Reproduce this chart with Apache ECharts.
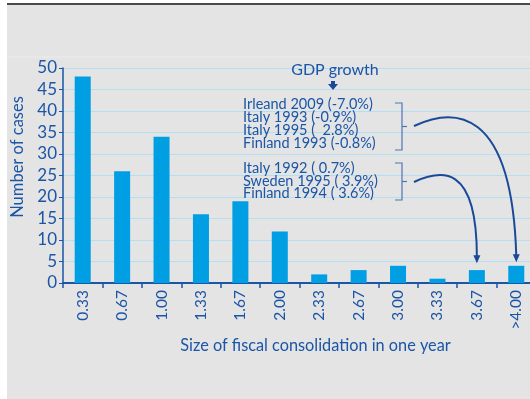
<!DOCTYPE html>
<html>
<head>
<meta charset="utf-8">
<script src="https://cdn.jsdelivr.net/npm/echarts@6/dist/echarts.min.js"></script>
<style>
  html, body { margin: 0; padding: 0; background: #fff; }
  #wrap { position: relative; width: 530px; height: 399px; overflow: hidden; }
  #panel { position: absolute; left: 7px; top: 3px; width: 523px; height: 396px;
           background: #e4e4e4; border-top: 2px solid #4a4a4a; box-sizing: border-box; }
  #chart { position: absolute; left: 0; top: 0; width: 530px; height: 399px; }
</style>
</head>
<body>
<div id="wrap">
  <div id="panel"></div>
  <div id="chart"></div>
</div>
<script>
// ----- Data -----
const categories = ['0.33', '0.67', '1.00', '1.33', '1.67', '2.00', '2.33', '2.67', '3.00', '3.33', '3.67', '>4.00'];
const cases = [48, 26, 34, 16, 19, 12, 2, 3, 4, 1, 3, 4];
const groupA = ['Irleand 2009 (-7.0%)', 'Italy 1993 (-0.9%)', 'Italy 1995 (  2.8%)', 'Finland 1993 (-0.8%)'];
const groupB = ['Italy 1992 ( 0.7%)', 'Sweden 1995 ( 3.9%)', 'Finland 1994 ( 3.6%)'];
const groupATarget = '>4.00';
const groupBTarget = '3.67';

const BLUE = '#1a55a6';
const DARK = '#1a4a97';
const BAR = '#009ee2';
const FONT = 'Lato, "Open Sans", sans-serif';

const chart = echarts.init(document.getElementById('chart'));

chart.setOption({
  animation: false,
  backgroundColor: 'transparent',
  grid: { left: 63, right: -6, top: 68, bottom: 116, outerBoundsMode: 'none', containLabel: false },
  xAxis: {
    type: 'category',
    data: categories,
    name: 'Size of fiscal consolidation in one year',
    nameLocation: 'middle',
    nameGap: 47,
    nameTextStyle: { color: BLUE, fontSize: 16.3, fontFamily: FONT, padding: [0, 0, 0, 32] },
    axisLine: { lineStyle: { color: BLUE, width: 2 } },
    axisTick: { show: true, length: 5, lineStyle: { color: BLUE, width: 1.5 } },
    axisLabel: { rotate: 90, color: BLUE, fontSize: 15.5, fontFamily: FONT, margin: 7, interval: 0 }
  },
  yAxis: {
    type: 'value',
    min: 0,
    max: 50,
    interval: 5,
    axisLine: { show: true, lineStyle: { color: BLUE, width: 1.5 } },
    axisTick: { show: true, length: 4, lineStyle: { color: BLUE } },
    axisLabel: { color: BLUE, fontSize: 17, fontFamily: FONT, margin: 6 },
    splitLine: { lineStyle: { color: '#b4dff3', width: 1 } }
  },
  series: [{
    type: 'bar',
    data: cases,
    barWidth: 16,
    itemStyle: { color: BAR }
  }]
});

// ----- Annotations -----
function arrowHead(x, y) {
  return {
    type: 'polygon',
    shape: { points: [[x - 3.5, y - 8], [x + 3.5, y - 8], [x, y]] },
    style: { fill: DARK }
  };
}

function bracket(x, y1, y2) {
  return {
    type: 'polyline',
    shape: { points: [[x - 7, y1], [x, y1], [x, y2], [x - 7, y2]] },
    style: { stroke: '#4f74b5', lineWidth: 1.2, fill: null }
  };
}

function build() {
  const iA = categories.indexOf(groupATarget);
  const iB = categories.indexOf(groupBTarget);
  const tipA = chart.convertToPixel({ seriesIndex: 0 }, [iA, cases[iA] + 0.8]);
  const tipB = chart.convertToPixel({ seriesIndex: 0 }, [iB, cases[iB] + 1.6]);

  const textStyle = { fill: BLUE, fontSize: 14.5, fontFamily: FONT, lineHeight: 12.8 };

  chart.setOption({
    graphic: [
      { type: 'line', shape: { x1: 7, y1: 57, x2: 530, y2: 57 }, style: { stroke: '#ececec', lineWidth: 1 } },
      // y axis title
      { type: 'text', x: 18, y: 157, rotation: Math.PI / 2,
        style: { text: 'Number of cases', fill: BLUE, fontSize: 16.5, fontFamily: FONT, align: 'center', verticalAlign: 'middle' } },
      { type: 'text', x: 335, y: 70,
        style: { text: 'GDP growth', fill: BLUE, fontSize: 16, fontFamily: FONT, align: 'center', verticalAlign: 'middle' } },
      { type: 'polygon', shape: { points: [[331, 81], [335, 81], [335, 84], [338, 84], [333, 90], [328, 84], [331, 84]] },
        style: { fill: DARK } },
      { type: 'text', x: 243, y: 124,
        style: Object.assign({ text: groupA.join('\n'), verticalAlign: 'middle' }, textStyle) },
      { type: 'text', x: 243, y: 181,
        style: Object.assign({ text: groupB.join('\n'), verticalAlign: 'middle' }, textStyle) },
      bracket(402, 103, 150),
      { type: 'line', shape: { x1: 402, y1: 126.5, x2: 407, y2: 126.5 }, style: { stroke: '#4f74b5', lineWidth: 1.2 } },
      bracket(402, 163, 200),
      { type: 'line', shape: { x1: 402, y1: 181.5, x2: 407, y2: 181.5 }, style: { stroke: '#4f74b5', lineWidth: 1.2 } },
      { type: 'bezierCurve',
        shape: { x1: 414, y1: 126, cpx1: 452, cpy1: 108, cpx2: 512, cpy2: 104, x2: tipA[0], y2: tipA[1] - 6 },
        style: { stroke: DARK, lineWidth: 2, fill: null } },
      arrowHead(tipA[0], tipA[1]),
      { type: 'bezierCurve',
        shape: { x1: 414, y1: 182, cpx1: 440, cpy1: 170, cpx2: 477, cpy2: 162, x2: tipB[0], y2: tipB[1] - 6 },
        style: { stroke: DARK, lineWidth: 2, fill: null } },
      arrowHead(tipB[0], tipB[1])
    ]
  });
}

build();
</script>
</body>
</html>
